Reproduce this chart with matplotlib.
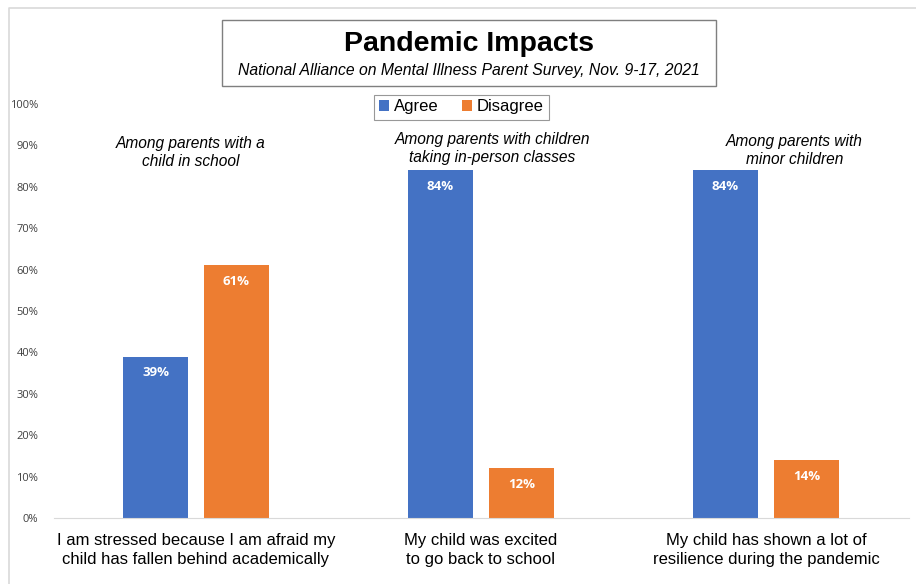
import matplotlib.pyplot as plt
from matplotlib.lines import Line2D
from matplotlib.patches import Rectangle
import numpy as np

categories = [
    "I am stressed because I am afraid my\nchild has fallen behind academically",
    "My child was excited\nto go back to school",
    "My child has shown a lot of\nresilience during the pandemic",
]
agree = [39, 84, 84]
disagree = [61, 12, 14]
notes = [
    "Among parents with a\nchild in school",
    "Among parents with children\ntaking in-person classes",
    "Among parents with\nminor children",
]
note_x = [-0.02, 1.04, 2.1]
note_y = [92.2, 93.2, 92.7]

BLUE = "#4472C4"
ORANGE = "#ED7D31"

fig = plt.figure(figsize=(9.16, 5.84), dpi=100)
ax = fig.add_axes([53.5 / 916, 1 - 518 / 584, 855 / 916, 414 / 584])

x = np.arange(len(categories))
w = 0.225
off = 0.142
b1 = ax.bar(x - off, agree, w, color=BLUE, label="Agree")
b2 = ax.bar(x + off, disagree, w, color=ORANGE, label="Disagree")

for bars in (b1, b2):
    for b in bars:
        ax.text(b.get_x() + b.get_width() / 2, b.get_height() - 2.3,
                f"{b.get_height():.0f}%", ha="center", va="top",
                color="white", fontsize=9.5, fontweight="bold", family="Open Sans")

for nx, ny, t in zip(note_x, note_y, notes):
    ax.text(nx, ny, t, ha="center", va="top", fontsize=11.2, style="italic",
            family="Liberation Sans", linespacing=1.25)

ax.set_xlim(-0.5, 2.5)
ax.set_ylim(0, 100)
ax.set_yticks(range(0, 101, 10))
ax.set_yticklabels([f"{v}%" for v in range(0, 101, 10)], family="Open Sans",
                   fontsize=8, color="#404040")
ax.set_xticks(x)
ax.set_xticklabels(categories, family="Liberation Sans", fontsize=12, linespacing=1.35)
ax.tick_params(axis="both", length=0)
ax.tick_params(axis="x", pad=11)
ax.tick_params(axis="y", pad=11)
for s in ["top", "right", "left"]:
    ax.spines[s].set_visible(False)
ax.spines["bottom"].set_color("#D9D9D9")

leg = ax.legend(loc="center", bbox_to_anchor=(461.5 / 916, 1 - 107 / 584),
                bbox_transform=fig.transFigure, ncol=2, frameon=True,
                fancybox=False, edgecolor="#7F7F7F",
                prop={"family": "Liberation Sans", "size": 12},
                handlelength=0.6, handleheight=0.6, handletextpad=0.3,
                columnspacing=1.4, borderpad=0.3, borderaxespad=0)
leg.get_frame().set_linewidth(0.8)

# title box
fig.patches.append(Rectangle((222 / 916, 1 - 86 / 584), 494 / 916, 66 / 584,
                             transform=fig.transFigure, fill=False,
                             edgecolor="#7F7F7F", linewidth=1))
fig.text(469 / 916, 1 - 44 / 584, "Pandemic Impacts", ha="center", va="center",
         fontsize=20.5, fontweight="bold", family="Liberation Sans")
fig.text(469 / 916, 1 - 70 / 584,
         "National Alliance on Mental Illness Parent Survey, Nov. 9-17, 2021",
         ha="center", va="center", fontsize=11.3, style="italic", family="Liberation Sans")

# outer frame
fig.add_artist(Line2D([9 / 916, 9 / 916, 1], [0, 1 - 8 / 584, 1 - 8 / 584],
                      transform=fig.transFigure, color="#D9D9D9", linewidth=1.2))

fig.savefig("out.png", dpi=100)
